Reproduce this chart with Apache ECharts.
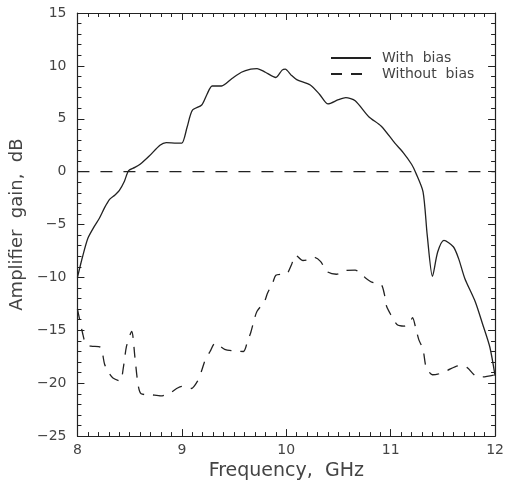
<!DOCTYPE html>
<html>
<head>
<meta charset="utf-8">
<script src="https://cdn.jsdelivr.net/npm/echarts@6/dist/echarts.min.js"></script>
<style>
  html, body { margin: 0; padding: 0; background: #fff; }
  #chart { width: 507px; height: 486px; }
</style>
</head>
<body>
<div id="chart"></div>
<script>
// frequency (GHz) and gain (dB)
const freqWith = [8.00, 8.05, 8.10, 8.16, 8.21, 8.26, 8.31, 8.36, 8.40, 8.45, 8.49, 8.55, 8.60, 8.69, 8.79, 8.85, 8.95, 9.00, 9.05, 9.10, 9.19, 9.24, 9.29, 9.38, 9.48, 9.57, 9.66, 9.72, 9.80, 9.90, 9.96, 9.99, 10.05, 10.10, 10.23, 10.32, 10.40, 10.50, 10.57, 10.66, 10.79, 10.91, 11.04, 11.12, 11.20, 11.24, 11.31, 11.35, 11.40, 11.45, 11.51, 11.60, 11.65, 11.71, 11.81, 11.88, 11.95, 12.00];
const gainWith = [-10.0, -8.0, -6.3, -5.2, -4.4, -3.4, -2.6, -2.2, -1.8, -0.9, 0.1, 0.4, 0.7, 1.5, 2.5, 2.75, 2.7, 2.7, 4.2, 5.8, 6.3, 7.3, 8.1, 8.1, 8.8, 9.4, 9.7, 9.75, 9.4, 8.9, 9.6, 9.7, 9.1, 8.7, 8.2, 7.3, 6.4, 6.8, 7.0, 6.7, 5.2, 4.3, 2.7, 1.8, 0.7, -0.1, -1.9, -6.0, -9.9, -7.6, -6.5, -7.1, -8.2, -10.1, -12.3, -14.4, -16.6, -19.3];

const freqWithout = [8.00, 8.05, 8.08, 8.13, 8.22, 8.26, 8.30, 8.34, 8.41, 8.44, 8.47, 8.52, 8.55, 8.58, 8.61, 8.71, 8.80, 8.89, 8.95, 9.00, 9.09, 9.15, 9.19, 9.22, 9.27, 9.32, 9.41, 9.51, 9.59, 9.63, 9.66, 9.69, 9.72, 9.79, 9.82, 9.87, 9.90, 9.96, 10.01, 10.05, 10.09, 10.16, 10.22, 10.27, 10.33, 10.39, 10.48, 10.57, 10.66, 10.74, 10.82, 10.91, 10.94, 10.96, 11.00, 11.06, 11.13, 11.18, 11.21, 11.24, 11.27, 11.31, 11.34, 11.40, 11.45, 11.54, 11.65, 11.73, 11.81, 11.88, 12.00];
const gainWithout = [-13.0, -15.3, -16.3, -16.5, -16.6, -18.2, -19.0, -19.5, -19.8, -18.5, -16.5, -15.1, -17.5, -20.1, -21.0, -21.1, -21.2, -20.9, -20.5, -20.3, -20.5, -19.8, -18.8, -17.9, -17.0, -16.2, -16.8, -16.95, -17.0, -16.0, -15.2, -14.1, -13.2, -12.3, -11.5, -10.5, -9.8, -9.7, -9.6, -8.8, -7.9, -8.4, -8.3, -8.1, -8.5, -9.45, -9.7, -9.35, -9.3, -9.9, -10.45, -10.7, -11.6, -12.7, -13.5, -14.45, -14.6, -14.3, -13.8, -14.8, -15.9, -16.8, -18.5, -19.2, -19.15, -18.8, -18.35, -18.5, -19.3, -19.4, -19.2];

const zeroFreq = [8, 12];
const zeroGain = [0, 0];

const xTicks = [8, 9, 10, 11, 12];
const yTicks = [-25, -20, -15, -10, -5, 0, 5, 10, 15];

const pairs = (xs, ys) => xs.map((x, i) => [x, ys[i]]);

const FONT = 'DejaVu Sans';
const INK = '#222';
const TXT = '#444';

const myChart = echarts.init(document.getElementById('chart'), null, { renderer: 'canvas' });

function xAxisCfg(pos, showLabel) {
  return {
    type: 'value',
    position: pos,
    min: xTicks[0],
    max: xTicks[xTicks.length - 1],
    interval: 1,
    axisLine: { show: true, onZero: false, lineStyle: { color: INK, width: 1.2 } },
    axisTick: { show: true, inside: true, length: 7, lineStyle: { color: INK, width: 1 } },
    minorTick: { show: true, splitNumber: 10, length: 4, lineStyle: { color: INK, width: 1 } },
    splitLine: { show: false },
    axisLabel: { show: showLabel, margin: 7, fontFamily: FONT, fontSize: 14, color: TXT }
  };
}

function yAxisCfg(pos, showLabel) {
  return {
    type: 'value',
    position: pos,
    min: yTicks[0],
    max: yTicks[yTicks.length - 1],
    interval: 5,
    axisLine: { show: true, onZero: false, lineStyle: { color: INK, width: 1.2 } },
    axisTick: { show: true, inside: true, length: 7, lineStyle: { color: INK, width: 1 } },
    minorTick: { show: true, splitNumber: 5, length: 4, lineStyle: { color: INK, width: 1 } },
    splitLine: { show: false },
    axisLabel: {
      show: showLabel, margin: 11, fontFamily: FONT, fontSize: 14, color: TXT,
      formatter: v => String(v).replace('-', '\u2212')
    }
  };
}

const bottomX = xAxisCfg('bottom', true);
bottomX.name = 'Frequency,  GHz';
bottomX.nameLocation = 'middle';
bottomX.nameGap = 22;
bottomX.nameTextStyle = { fontFamily: FONT, fontSize: 19, color: TXT, verticalAlign: 'top' };

const leftY = yAxisCfg('left', true);
leftY.name = 'Amplifier  gain,  dB';
leftY.nameLocation = 'middle';
leftY.nameGap = 45;
leftY.nameTextStyle = { fontFamily: FONT, fontSize: 18, color: TXT };

const option = {
  animation: false,
  backgroundColor: '#fff',
  grid: { left: 73, right: 8, top: 13, bottom: 47 },
  legend: {
    orient: 'vertical',
    left: 325,
    top: 46,
    itemWidth: 40,
    itemHeight: 10,
    itemGap: 2,
    selectedMode: false,
    itemStyle: { opacity: 0 },
    textStyle: { fontFamily: FONT, fontSize: 14, color: TXT, padding: [0, 0, 0, 6] },
    data: ['With  bias', 'Without  bias']
  },
  xAxis: [bottomX, xAxisCfg('top', false)],
  yAxis: [leftY, yAxisCfg('right', false)],
  series: [
    {
      name: 'With  bias',
      type: 'line',
      data: pairs(freqWith, gainWith),
      smooth: 0.25,
      symbol: 'none',
      lineStyle: { color: INK, width: 1.3 },
      itemStyle: { color: INK }
    },
    {
      name: 'Without  bias',
      type: 'line',
      data: pairs(freqWithout, gainWithout),
      smooth: 0.25,
      symbol: 'none',
      lineStyle: { color: INK, width: 1.3, type: [11, 9] },
      itemStyle: { color: INK }
    },
    {
      name: 'zero',
      type: 'line',
      data: pairs(zeroFreq, zeroGain),
      symbol: 'none',
      silent: true,
      lineStyle: { color: INK, width: 1.3, type: [12, 11] },
      itemStyle: { color: INK }
    }
  ]
};

myChart.setOption(option);
window.addEventListener('resize', function () {
  myChart.resize();
});
</script>
</body>
</html>
